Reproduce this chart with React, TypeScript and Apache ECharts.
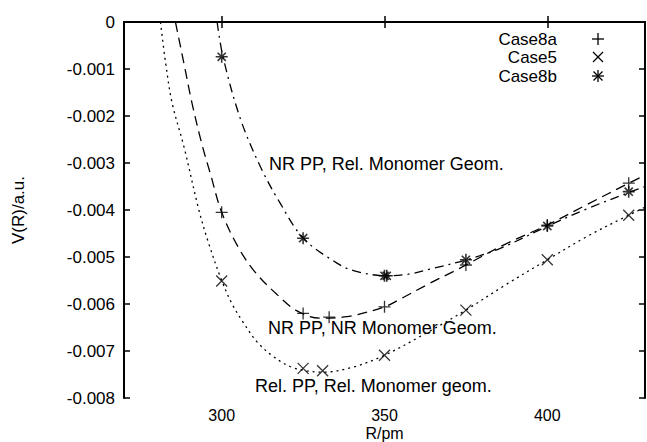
import React, { useEffect, useRef } from "react";
import * as echarts from "echarts";

// Tick labels / axis setup
const xTickValues = [300, 350, 400];
const yMin = -0.008;
const yMax = 0;
const yStep = 0.001;

// Data points (R in pm, V in a.u.)
const case8aPoints: [number, number][] = [
  [300, -0.00405], [325, -0.0062], [333, -0.00628], [350, -0.00606],
  [375, -0.00517], [400, -0.00432], [425, -0.00343],
];
const case5Points: [number, number][] = [
  [300, -0.00551], [325, -0.00737], [331, -0.00742], [350, -0.00709],
  [375, -0.00613], [400, -0.00506], [425, -0.00411],
];
const case8bPoints: [number, number][] = [
  [300, -0.00074], [325, -0.0046], [350, -0.0054], [350.7, -0.0054],
  [375, -0.00506], [400, -0.00434], [425, -0.00361],
];

// Fitted curves
const curveRelRel: [number, number][] = [
  [281.2, 0], [282.8, -0.00088], [284.8, -0.00173], [288.4, -0.00265],
  [293, -0.004], [296, -0.00471], [300, -0.0055], [303.2, -0.006],
  [306.7, -0.0064], [310.8, -0.0068], [315.9, -0.00712], [321, -0.00733],
  [326, -0.00742], [331, -0.00745], [340, -0.00735], [350, -0.00709],
  [362, -0.00665], [375, -0.00613], [387, -0.0056], [400, -0.00506],
  [412, -0.00457], [425, -0.00411], [430, -0.00394],
];
const curveNRNR: [number, number][] = [
  [285.8, 0], [288.4, -0.00088], [290.9, -0.00173], [294, -0.00262],
  [296.5, -0.00322], [300, -0.00405], [305, -0.00478], [310, -0.0053],
  [317, -0.0058], [323, -0.00614], [330, -0.0063], [338.4, -0.00627],
  [350, -0.00606], [354.7, -0.0059], [363.9, -0.00556], [371.1, -0.00531],
  [375, -0.00517], [387, -0.00473], [400, -0.00432], [412, -0.00389],
  [425, -0.00343], [430, -0.00326],
];
const curveNRRel: [number, number][] = [
  [298.6, 0], [300.4, -0.00074], [305.7, -0.00205], [311.9, -0.00308],
  [318, -0.00386], [325.1, -0.0046], [335.4, -0.00513], [341, -0.0053],
  [350.7, -0.0054], [357.8, -0.00536], [363.9, -0.00526], [375.2, -0.00506],
  [385.4, -0.00482], [400.2, -0.00434], [412, -0.00398], [425.7, -0.00361],
  [430, -0.0035],
];

const legendNames = ["Case8a", "Case5", "Case8b"];
const annotations = [
  "NR PP, Rel. Monomer Geom.",
  "NR PP, NR Monomer Geom.",
  "Rel. PP, Rel. Monomer geom.",
];

const FONT = "'Liberation Sans', Arial, Helvetica, sans-serif";
const PLUS = "path://M0,5L10,5M5,0L5,10";
const CROSS = "path://M0,0L10,10M10,0L0,10";
const STAR = "path://M0,5L10,5M5,0L5,10M1.6,1.6L8.4,8.4M8.4,1.6L1.6,8.4";

const markerStyle = (w: number) => ({ color: "transparent", borderColor: "#000", borderWidth: w });

export default function App() {
  const ref = useRef<HTMLDivElement>(null);
  useEffect(() => {
    if (!ref.current) return;
    const chart = echarts.init(ref.current, undefined, { renderer: "svg" });
    const axisLine = { show: true, lineStyle: { color: "#000", width: 2 } };
    const tick = { show: true, inside: true, length: 6, lineStyle: { color: "#000", width: 1.5 } };
    const lineSeries = (data: [number, number][], type: any) => ({
      type: "line",
      data,
      smooth: 0.35,
      showSymbol: false,
      symbol: "none",
      clip: true,
      lineStyle: { color: "#000", width: 1.3, type },
      silent: true,
    });
    const legendY = [39, 57, 76];
    const iconX = 598;
    const ln = (x1: number, y1: number, x2: number, y2: number) => ({
      type: "line",
      shape: { x1, y1, x2, y2 },
      style: { stroke: "#000", lineWidth: 1.3 },
    });
    const icons = [
      [ln(iconX - 6, legendY[0], iconX + 6, legendY[0]), ln(iconX, legendY[0] - 6, iconX, legendY[0] + 6)],
      [ln(iconX - 5, legendY[1] - 5, iconX + 5, legendY[1] + 5), ln(iconX + 5, legendY[1] - 5, iconX - 5, legendY[1] + 5)],
      [
        ln(iconX - 6, legendY[2], iconX + 6, legendY[2]),
        ln(iconX, legendY[2] - 6, iconX, legendY[2] + 6),
        ln(iconX - 4.5, legendY[2] - 4.5, iconX + 4.5, legendY[2] + 4.5),
        ln(iconX + 4.5, legendY[2] - 4.5, iconX - 4.5, legendY[2] + 4.5),
      ],
    ].flat();
    const txt = (text: string, x: number, y: number, align: string, size: number) => ({
      type: "text",
      x,
      y,
      style: {
        text,
        fill: "#000",
        fontFamily: FONT,
        fontSize: size,
        align,
        verticalAlign: "middle",
      },
    });

    chart.setOption({
      animation: false,
      backgroundColor: "#fff",
      grid: {
        left: 124,
        right: 2,
        top: 22,
        bottom: 44,
        containLabel: false,
        outerBoundsMode: "none",
      },
      xAxis: [
        {
          type: "value",
          min: 270,
          max: 430,
          position: "bottom",
          name: "R/pm",
          nameLocation: "middle",
          nameGap: 27,
          nameMoveOverlap: false,
          nameTextStyle: { color: "#000", fontSize: 16, lineHeight: 16, fontFamily: FONT },
          axisLine,
          axisTick: { ...tick, customValues: xTickValues },
          axisLabel: {
            color: "#000",
            fontSize: 16,
            lineHeight: 16,
            fontFamily: FONT,
            margin: 9,
            customValues: xTickValues,
          },
          splitLine: { show: false },
        },
        {
          type: "value",
          min: 270,
          max: 430,
          position: "top",
          axisLine,
          axisTick: { ...tick, customValues: xTickValues },
          axisLabel: { show: false },
          splitLine: { show: false },
        },
      ],
      yAxis: [
        {
          type: "value",
          min: yMin,
          max: yMax,
          interval: yStep,
          position: "left",
          name: "V(R)/a.u.",
          nameLocation: "middle",
          nameGap: 97,
          nameRotate: 90,
          nameMoveOverlap: false,
          nameTextStyle: { color: "#000", fontSize: 17, fontFamily: FONT },
          axisLine,
          axisTick: tick,
          axisLabel: {
            color: "#000",
            fontSize: 17,
            fontFamily: FONT,
            margin: 9,
            formatter: (v: number) => (Math.abs(v) < 1e-9 ? "0" : v.toFixed(3)),
          },
          splitLine: { show: false },
        },
        {
          type: "value",
          min: yMin,
          max: yMax,
          interval: yStep,
          position: "right",
          axisLine,
          axisTick: tick,
          axisLabel: { show: false },
          splitLine: { show: false },
        },
      ],
      series: [
        lineSeries(curveRelRel, [2, 4]),
        lineSeries(curveNRNR, [10, 6]),
        lineSeries(curveNRRel, [9, 5, 2, 5]),
        {
          type: "scatter",
          name: legendNames[0],
          data: case8aPoints,
          symbol: PLUS,
          symbolSize: 12,
          itemStyle: markerStyle(1.3),
          silent: true,
        },
        {
          type: "scatter",
          name: legendNames[1],
          data: case5Points,
          symbol: CROSS,
          symbolSize: 11,
          itemStyle: markerStyle(1.3),
          silent: true,
        },
        {
          type: "scatter",
          name: legendNames[2],
          data: case8bPoints,
          symbol: STAR,
          symbolSize: 12,
          itemStyle: markerStyle(1.6),
          silent: true,
        },
      ],
      graphic: [
        txt(legendNames[0], 557, legendY[0], "right", 17),
        txt(legendNames[1], 557, legendY[1], "right", 17),
        txt(legendNames[2], 557, legendY[2], "right", 17),
        ...icons,
        txt(annotations[0], 269, 164, "left", 18),
        txt(annotations[1], 268, 328, "left", 18),
        txt(annotations[2], 255, 386, "left", 18),
      ],
    });
    return () => chart.dispose();
  }, []);
  return (
    <div
      ref={ref}
      style={{ position: "absolute", left: 0, top: 0, width: 647, height: 442, background: "#fff" }}
    />
  );
}
